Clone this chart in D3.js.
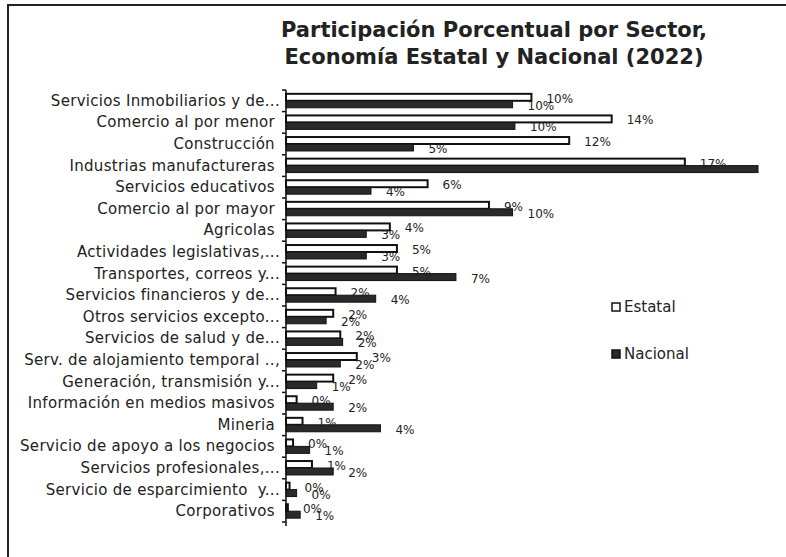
<!doctype html>
<html lang="es">
<head>
<meta charset="utf-8">
<title>Participación porcentual por sector</title>
<script src="https://cdn.jsdelivr.net/npm/d3@7"></script>
<style>
  body { margin: 0; background: #fff; }
  svg { display: block; font-family: "DejaVu Sans", sans-serif; }
  .cat { white-space: pre; }
</style>
</head>
<body>
<svg></svg>
<script>
var width = 786;
var height = 557;

var categories = [
  "Servicios Inmobiliarios y de...",
  "Comercio al por menor ",
  "Construcción ",
  "Industrias manufactureras ",
  "Servicios educativos ",
  "Comercio al por mayor ",
  "Agricolas ",
  "Actividades legislativas,...",
  "Transportes, correos y...",
  "Servicios financieros y de...",
  "Otros servicios excepto...",
  "Servicios de salud y de...",
  "Serv. de alojamiento temporal ..,",
  "Generación, transmisión y...",
  "Información en medios masivos ",
  "Mineria ",
  "Servicio de apoyo a los negocios ",
  "Servicios profesionales,...",
  "Servicio de esparcimiento  y...",
  "Corporativos "
];
var estatal = [10.4, 13.8, 12.0, 16.9, 6.0, 8.6, 4.4, 4.7, 4.7, 2.1, 2.0, 2.3, 3.0, 2.0, 0.45, 0.7, 0.3, 1.1, 0.15, 0.08];
var nacional = [9.6, 9.7, 5.4, 20.0, 3.6, 9.6, 3.4, 3.4, 7.2, 3.8, 1.7, 2.4, 2.3, 1.3, 2.0, 4.0, 1.0, 2.0, 0.45, 0.6];
var seriesNames = ["Estatal", "Nacional"];
var titleLines = ["Participación Porcentual por Sector,", "Economía Estatal y Nacional (2022)"];

var svg = d3.select("svg").attr("width", width).attr("height", height);

// page frame (left and top edge of the scanned box)
svg.append("path")
  .attr("d", "M8,557 V5 H786")
  .attr("fill", "none")
  .attr("stroke", "#222")
  .attr("stroke-width", 2);

var x = d3.scaleLinear().domain([0, 20]).range([286, 758]);
var y = d3.scaleBand().domain(categories).range([90, 522]);
var ySub = d3.scaleBand().domain(seriesNames).range([0, y.bandwidth()]).paddingOuter(0.55);

var rows = categories.map(function (c, i) {
  return { cat: c, values: [estatal[i], nacional[i]] };
});

var g = svg.selectAll(".row")
  .data(rows)
  .enter()
  .append("g")
  .attr("class", "row")
  .attr("transform", function (d) { return "translate(0," + y(d.cat) + ")"; });

g.selectAll("rect")
  .data(function (d) { return d.values.map(function (v, k) { return { s: seriesNames[k], v: v }; }); })
  .enter()
  .append("rect")
  .attr("x", x(0))
  .attr("y", function (d) { return ySub(d.s); })
  .attr("width", function (d) { return x(d.v) - x(0); })
  .attr("height", ySub.bandwidth())
  .attr("fill", function (d) { return d.s === "Estatal" ? "#fff" : "#2a2a2a"; })
  .attr("stroke", "#111")
  .attr("stroke-width", function (d) { return d.s === "Estatal" ? 2 : 1; });

// value labels; the one that runs past the right edge is not shown (as in the original)
g.selectAll("text.val")
  .data(function (d) {
    return d.values.map(function (v, k) { return { s: seriesNames[k], v: v }; })
      .filter(function (d) { return x(d.v) + 15 + 26 < width; });
  })
  .enter()
  .append("text")
  .attr("class", "val")
  .attr("x", function (d) { return x(d.v) + 15; })
  .attr("y", function (d) { return ySub(d.s) + ySub.bandwidth() / 2 + 1.5; })
  .attr("dominant-baseline", "central")
  .attr("font-size", "12px")
  .attr("fill", "#222")
  .text(function (d) { return Math.round(d.v) + "%"; });

// category labels
svg.selectAll("text.cat")
  .data(categories)
  .enter()
  .append("text")
  .attr("class", "cat")
  .attr("x", 280)
  .attr("y", function (d) { return y(d) + y.bandwidth() / 2; })
  .attr("text-anchor", "end")
  .attr("dominant-baseline", "central")
  .attr("font-size", "15px")
  .attr("letter-spacing", "0.3px")
  .attr("fill", "#222")
  .text(function (d) { return d; });

// vertical axis with ticks at the category boundaries
svg.append("line")
  .attr("x1", x(0)).attr("x2", x(0))
  .attr("y1", y.range()[0]).attr("y2", y.range()[1] + 4)
  .attr("stroke", "#111").attr("stroke-width", 1.5);
svg.selectAll("line.tick")
  .data(d3.range(categories.length + 1))
  .enter()
  .append("line")
  .attr("class", "tick")
  .attr("x1", x(0) - 4).attr("x2", x(0))
  .attr("y1", function (i) { return y.range()[0] + i * y.step(); })
  .attr("y2", function (i) { return y.range()[0] + i * y.step(); })
  .attr("stroke", "#111").attr("stroke-width", 1.5);

// title
svg.selectAll("text.title")
  .data(titleLines)
  .enter()
  .append("text")
  .attr("class", "title")
  .attr("x", 494)
  .attr("y", function (d, i) { return 37 + i * 27; })
  .attr("text-anchor", "middle")
  .attr("font-size", "21px")
  .attr("font-weight", "bold")
  .attr("fill", "#222")
  .text(function (d) { return d; });

// legend
var legend = svg.selectAll("g.legend")
  .data(seriesNames)
  .enter()
  .append("g")
  .attr("class", "legend")
  .attr("transform", function (d, i) { return "translate(612," + (303 + i * 47) + ")"; });
legend.append("rect")
  .attr("width", 8).attr("height", 8)
  .attr("fill", function (d) { return d === "Estatal" ? "#fff" : "#2a2a2a"; })
  .attr("stroke", "#111").attr("stroke-width", 1.5);
legend.append("text")
  .attr("x", 12).attr("y", 4)
  .attr("dominant-baseline", "central")
  .attr("font-size", "15px")
  .attr("fill", "#222")
  .text(function (d) { return d; });
</script>
</body>
</html>
